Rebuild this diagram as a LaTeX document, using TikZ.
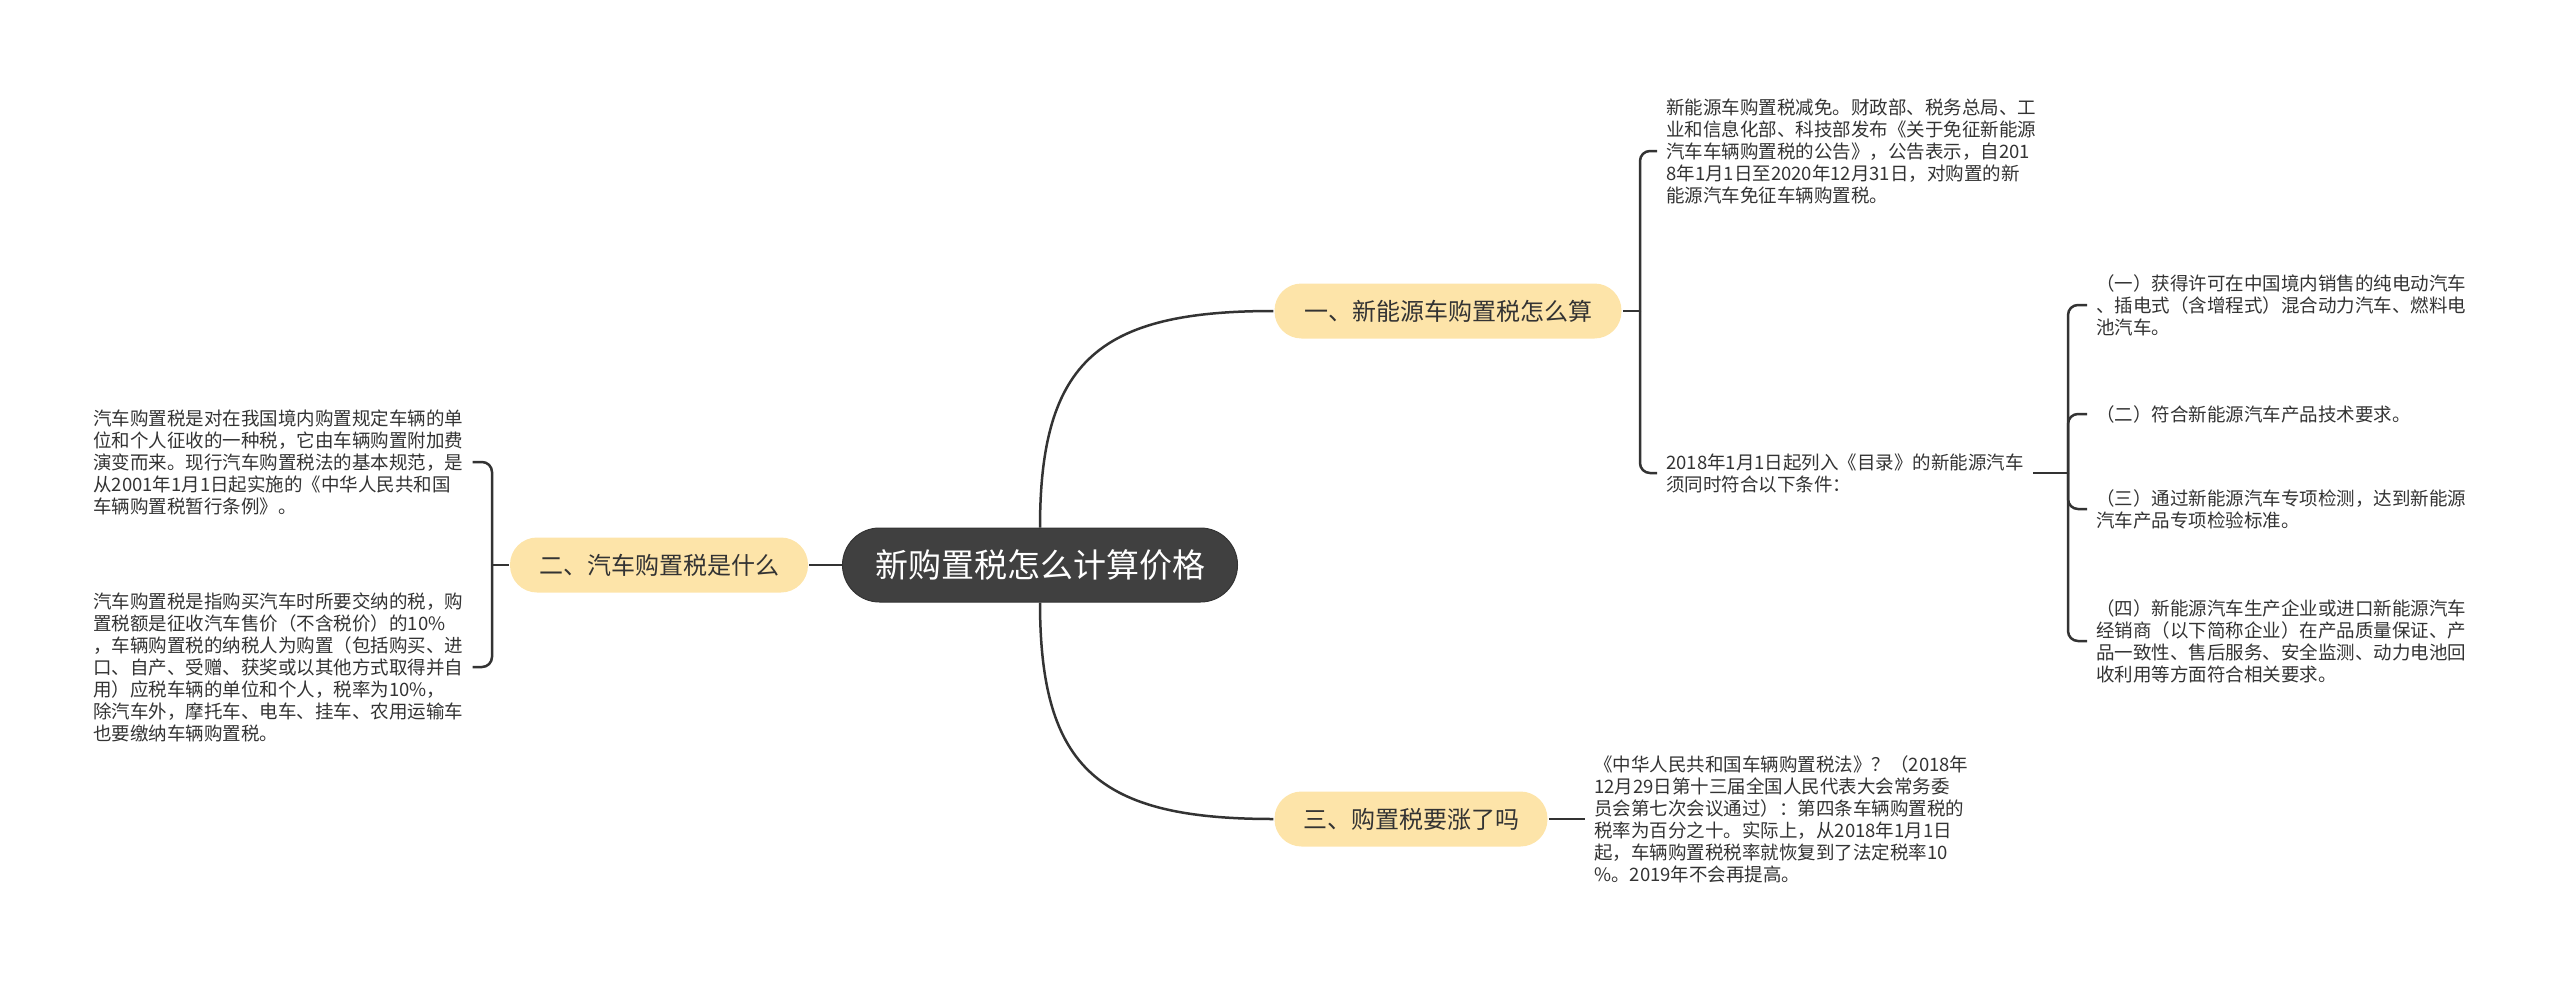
\documentclass[tikz,border=0pt]{standalone}
\usepackage{fontspec}
\setmainfont{Noto Sans CJK SC}
\definecolor{linkgray}{HTML}{333333}
\definecolor{rootfill}{HTML}{404040}
\definecolor{topicfill}{HTML}{FDE4A9}
\begin{document}
\begin{tikzpicture}[x=1pt, y=-1pt, line width=2.5pt,
  link/.style={draw=linkgray, rounded corners=10pt},
  topic/.style={fill=topicfill, rounded corners=27pt, minimum height=55pt, inner sep=0pt, text=linkgray, font=\fontsize{24}{28}\selectfont},
  leaf/.style={align=left, inner xsep=8pt, inner ysep=2pt, text=linkgray, font=\fontsize{18.5}{22}\selectfont}]
  \useasboundingbox (0,0) rectangle (2560,982);
  % centre and the three topics
  \node[fill=rootfill, draw=black!80, line width=1pt, rounded corners=37pt, minimum width=395pt, minimum height=74pt, inner sep=0pt, text=white, font=\fontsize{33}{38}\selectfont] (root) at (1040,565) {新购置税怎么计算价格};
  \node[topic, minimum width=347pt] (t1) at (1448,311) {一、新能源车购置税怎么算};
  \node[topic, minimum width=298pt] (t2) at (659,565) {二、汽车购置税是什么};
  \node[topic, minimum width=273pt] (t3) at (1411,819) {三、购置税要涨了吗};
  \draw[link] (root.north) .. controls (1040,360) and (1100,311) .. (t1.west);
  \draw[link] (root.south) .. controls (1040,770) and (1100,819) .. (t3.west);
  \draw[link] (root.west) -- (t2.east);
  % topic one
  \node[leaf, anchor=west] (n1) at (1657,151) {新能源车购置税减免。财政部、税务总局、工\\业和信息化部、科技部发布《关于免征新能源\\汽车车辆购置税的公告》，公告表示，自201\\8年1月1日至2020年12月31日，对购置的新\\能源汽车免征车辆购置税。};
  \node[leaf, anchor=west] (n2) at (1657,473) {2018年1月1日起列入《目录》的新能源汽车\\须同时符合以下条件：};
  \coordinate (j1) at (1640,311);
  \draw[link] (t1.east) -- (j1);
  \foreach \n in {n1,n2} \draw[link] (j1) |- (\n.west);
  % conditions
  \node[leaf, anchor=west] (c1) at (2087,305) {（一）获得许可在中国境内销售的纯电动汽车\\、插电式（含增程式）混合动力汽车、燃料电\\池汽车。};
  \node[leaf, anchor=west] (c2) at (2087,414) {（二）符合新能源汽车产品技术要求。};
  \node[leaf, anchor=west] (c3) at (2087,509) {（三）通过新能源汽车专项检测，达到新能源\\汽车产品专项检验标准。};
  \node[leaf, anchor=west] (c4) at (2087,641) {（四）新能源汽车生产企业或进口新能源汽车\\经销商（以下简称企业）在产品质量保证、产\\品一致性、售后服务、安全监测、动力电池回\\收利用等方面符合相关要求。};
  \coordinate (j2) at (2068,473);
  \draw[link] (n2.east) -- (j2);
  \foreach \n in {c1,c2,c3,c4} \draw[link] (j2) |- (\n.west);
  % topic two, texts on the left
  \node[leaf, anchor=west] (m1) at (84,462) {汽车购置税是对在我国境内购置规定车辆的单\\位和个人征收的一种税，它由车辆购置附加费\\演变而来。现行汽车购置税法的基本规范，是\\从2001年1月1日起实施的《中华人民共和国\\车辆购置税暂行条例》。};
  \node[leaf, anchor=west] (m2) at (84,667) {汽车购置税是指购买汽车时所要交纳的税，购\\置税额是征收汽车售价（不含税价）的10\%\\，车辆购置税的纳税人为购置（包括购买、进\\口、自产、受赠、获奖或以其他方式取得并自\\用）应税车辆的单位和个人，税率为10\%，\\除汽车外，摩托车、电车、挂车、农用运输车\\也要缴纳车辆购置税。};
  \coordinate (j3) at (492,565);
  \draw[link] (t2.west) -- (j3);
  \foreach \n in {m1,m2} \draw[link] (j3) |- (\n.east);
  % topic three
  \node[leaf, anchor=west] (r1) at (1585,819) {《中华人民共和国车辆购置税法》？（2018年\\12月29日第十三届全国人民代表大会常务委\\员会第七次会议通过）：第四条车辆购置税的\\税率为百分之十。实际上，从2018年1月1日\\起，车辆购置税税率就恢复到了法定税率10\\\%。2019年不会再提高。};
  \draw[link] (t3.east) -- (r1.west);
\end{tikzpicture}
\end{document}
